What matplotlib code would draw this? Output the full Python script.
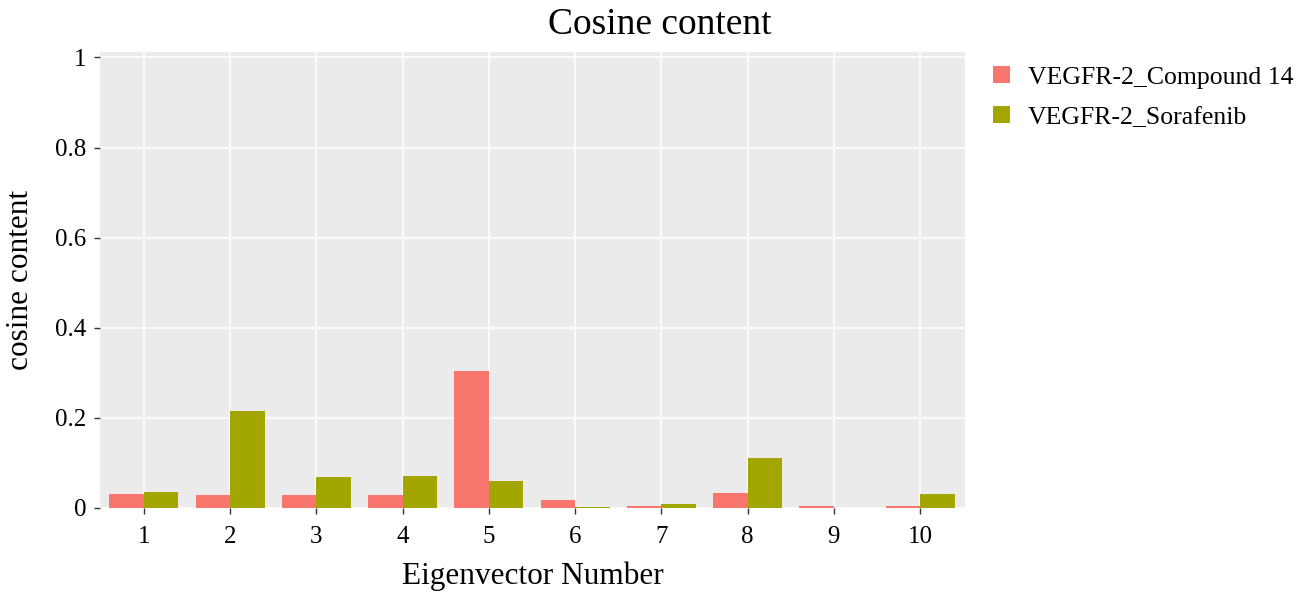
import numpy as np
import matplotlib
matplotlib.use('Agg')
import matplotlib.pyplot as plt
from matplotlib.patches import Patch

plt.rcParams['font.family'] = ['Liberation Serif', 'DejaVu Serif']

eigenvectors = ['1', '2', '3', '4', '5', '6', '7', '8', '9', '10']
compound14 = [0.032, 0.028, 0.028, 0.029, 0.303, 0.017, 0.0045, 0.033, 0.004, 0.004]
sorafenib = [0.035, 0.216, 0.069, 0.070, 0.061, 0.003, 0.0085, 0.111, 0.0005, 0.030]
series_names = ['VEGFR-2_Compound 14', 'VEGFR-2_Sorafenib']
colors = ['#F8766D', '#A3A500']

fig = plt.figure(figsize=(12.99, 5.95), dpi=100)
ax = fig.add_axes([100 / 1299, 1 - 508 / 595, 865 / 1299, 456 / 595])

x = np.arange(1, len(eigenvectors) + 1)
w = 0.4
ax.bar(x - w / 2, compound14, width=w, color=colors[0], zorder=3)
ax.bar(x + w / 2, sorafenib, width=w, color=colors[1], zorder=3)

ax.set_facecolor('#EBEBEB')
ax.grid(True, color='white', linewidth=1.1, zorder=0)
ax.set_axisbelow(True)
for s in ax.spines.values():
    s.set_visible(False)

ax.set_xlim(0.49, 10.52)
ax.set_ylim(0, 1.012)
ax.set_xticks(x)
ax.set_xticklabels(eigenvectors)
ax.set_yticks([0, 0.2, 0.4, 0.6, 0.8, 1])
ax.set_yticklabels(['0', '0.2', '0.4', '0.6', '0.8', '1'])
ax.tick_params(axis='both', labelsize=18, colors='#333333', labelcolor='black',
               length=4, width=1)
ax.tick_params(axis='x', pad=9)
ax.tick_params(axis='y', pad=6)

ax.set_xlabel('Eigenvector Number', fontsize=22.5, labelpad=10)
ax.set_ylabel('cosine content', fontsize=22.5, labelpad=14)
fig.suptitle('Cosine content', x=660 / 1299, y=1 - 8 / 595, va='top', fontsize=27)

handles = [Patch(facecolor=c, edgecolor='none') for c in colors]
fig.legend(handles, series_names, loc='upper left', bbox_to_anchor=(993 / 1299, 1 - 66 / 595),
           frameon=False, fontsize=18.5, handlelength=0.65, handleheight=0.65,
           handletextpad=0.7, labelspacing=0.68, borderaxespad=0, borderpad=0)

fig.savefig('out.png', dpi=100)
